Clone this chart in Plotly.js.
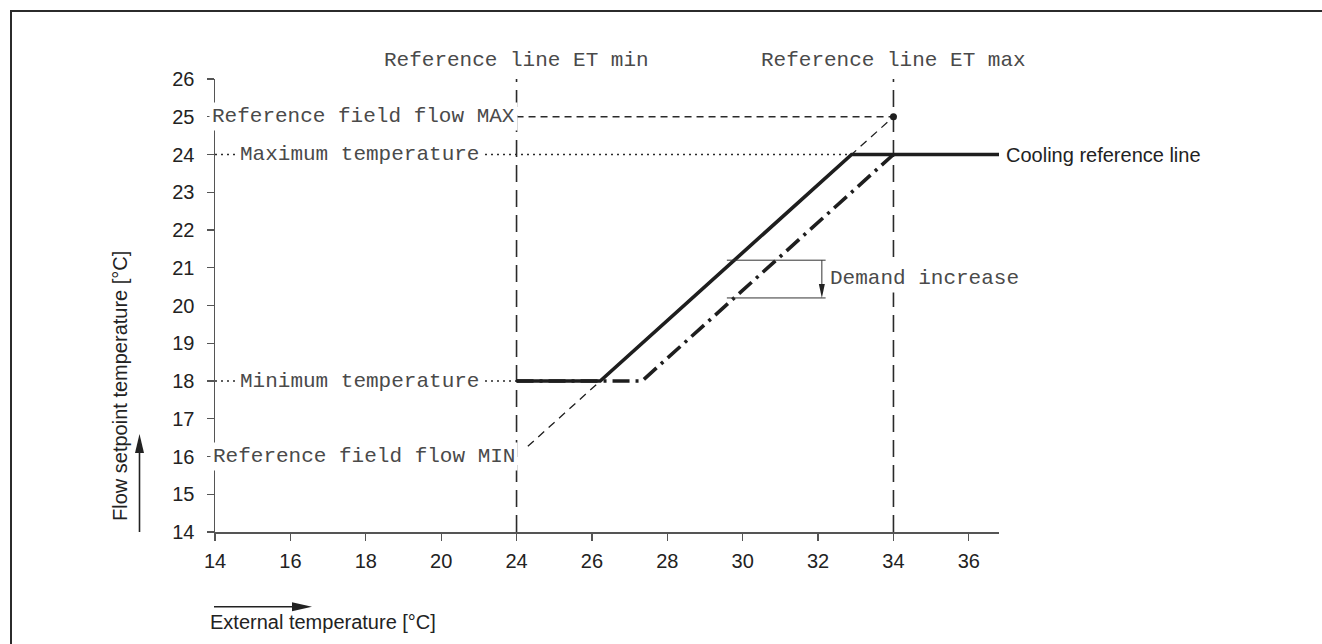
<!DOCTYPE html>
<html><head><meta charset="utf-8">
<script src="https://cdn.plot.ly/plotly-3.0.1.min.js"></script>
<style>
html,body{margin:0;padding:0;background:#fff;overflow:hidden;}
#wrap{position:relative;width:1322px;height:644px;}
#chart{position:absolute;left:0;top:0;width:1322px;height:644px;}
#frame{position:absolute;left:10px;top:10px;width:1400px;height:700px;border-left:2px solid #2b2b2b;border-top:2px solid #2b2b2b;pointer-events:none;}
</style></head><body>
<div id="wrap"><div id="chart"></div><div id="frame"></div></div>
<script>
// ---- data ----
const xTickLabels = [14, 16, 18, 20, 24, 26, 28, 30, 32, 34, 36];
const yTickValues = [14, 15, 16, 17, 18, 19, 20, 21, 22, 23, 24, 25, 26];
const coolingX = [24, 26.22, 32.89, 36.8];
const coolingY = [18, 18, 24, 24];
const shiftedX = [24, 27.33, 34];
const shiftedY = [18, 18, 24];
const refFieldX = [24.3, 34];
const refFieldY = [16.27, 25];
const refMaxPointX = [34];
const refMaxPointY = [25];
const etMin = 24, etMax = 34;
const flowMax = 25, flowMin = 16;
const tempMax = 24, tempMin = 18;
const demandX = [29.58, 32.2];
const demandY = [21.2, 20.2];
const demandArrowX = 32.1;

// broken x axis: 14..20 then 24..36
const axisPos = v => (v <= 20 ? v + 2 : v);
const xRange = [axisPos(14), 36.8];
const yRange = [14, 26];

// layout geometry
const M = {l: 215, r: 323, t: 79, b: 112};
const W = 1322 - M.l - M.r, H = 644 - M.t - M.b;
const pxPerX = W / (xRange[1] - xRange[0]);
const pxPerY = H / (yRange[1] - yRange[0]);
const px2paperX = px => (px - M.l) / W;
const py2paperY = py => (M.t + H - py) / H;
const x2paper = v => (v - xRange[0]) / (xRange[1] - xRange[0]);

const INK = '#1e1e1e';
const MONO = {family: 'Liberation Mono, Courier New, monospace', size: 21, color: '#4a4a4a'};
const SANS = {family: 'Liberation Sans, Arial, sans-serif', size: 20, color: '#222'};

const traces = [
  {x: refFieldX, y: refFieldY, mode: 'lines', line: {color: INK, width: 1.3, dash: '8px,6px'}, hoverinfo: 'skip'},
  {x: shiftedX, y: shiftedY, mode: 'lines', line: {color: INK, width: 3.6, dash: '17px,6px,3px,6px'}, hoverinfo: 'skip'},
  {x: coolingX, y: coolingY, mode: 'lines', line: {color: INK, width: 3.6}, hoverinfo: 'skip'},
  {x: refMaxPointX, y: refMaxPointY, mode: 'markers', marker: {color: INK, size: 7}, hoverinfo: 'skip'}
];

// arrowheads
function headData(tipX, tipY, dirX, dirY, len, wid) {
  const bx = -dirX * len, by = -dirY * len;
  const nx = -dirY * wid / 2, ny = dirX * wid / 2;
  const pts = [[0, 0], [bx + nx, by + ny], [bx - nx, by - ny]];
  return 'M' + pts.map(p => (tipX + p[0] / pxPerX) + ',' + (tipY - p[1] / pxPerY)).join(' L') + ' Z';
}
function headPaper(tipPx, tipPy, dirX, dirY, len, wid) {
  const bx = -dirX * len, by = -dirY * len;
  const nx = -dirY * wid / 2, ny = dirX * wid / 2;
  const pts = [[0, 0], [bx + nx, by + ny], [bx - nx, by - ny]];
  return 'M' + pts.map(p => px2paperX(tipPx + p[0]) + ',' + py2paperY(tipPy + p[1])).join(' L') + ' Z';
}

const yArrowX = 139.5, yArrowTop = 434, yArrowBottom = 532;
const xArrowY = 606.7, xArrowLeft = 214, xArrowRight = 312;

const shapes = [
  {type: 'line', xref: 'x', yref: 'y', x0: etMin, x1: etMin, y0: yRange[0], y1: yRange[1], layer: 'below', line: {color: '#2a2a2a', width: 1.6, dash: '17px,8px'}},
  {type: 'line', xref: 'x', yref: 'y', x0: etMax, x1: etMax, y0: yRange[0], y1: yRange[1], layer: 'below', line: {color: '#2a2a2a', width: 1.6, dash: '17px,8px'}},
  {type: 'line', xref: 'x', yref: 'y', x0: etMin, x1: etMax, y0: flowMax, y1: flowMax, layer: 'below', line: {color: '#2a2a2a', width: 1.3, dash: '7px,5px'}},
  {type: 'line', xref: 'x', yref: 'y', x0: xRange[0], x1: coolingX[2], y0: tempMax, y1: tempMax, layer: 'below', line: {color: '#2a2a2a', width: 1.3, dash: '2px,4px'}},
  {type: 'line', xref: 'x', yref: 'y', x0: xRange[0], x1: etMin, y0: tempMin, y1: tempMin, layer: 'below', line: {color: '#2a2a2a', width: 1.3, dash: '2px,4px'}},
  {type: 'line', xref: 'x', yref: 'y', x0: demandX[0], x1: demandX[1], y0: demandY[0], y1: demandY[0], line: {color: '#333', width: 1}},
  {type: 'line', xref: 'x', yref: 'y', x0: demandX[0], x1: demandX[1], y0: demandY[1], y1: demandY[1], line: {color: '#333', width: 1}},
  {type: 'line', xref: 'x', yref: 'y', x0: demandArrowX, x1: demandArrowX, y0: demandY[0], y1: demandY[1] + 10 / pxPerY, line: {color: '#333', width: 1}},
  {type: 'path', xref: 'x', yref: 'y', path: headData(demandArrowX, demandY[1], 0, 1, 14, 6), fillcolor: '#222', line: {width: 0}},
  {type: 'line', xref: 'paper', yref: 'paper', x0: px2paperX(yArrowX), x1: px2paperX(yArrowX), y0: py2paperY(yArrowBottom), y1: py2paperY(yArrowTop + 12), line: {color: '#222', width: 1.6}},
  {type: 'path', xref: 'paper', yref: 'paper', path: headPaper(yArrowX, yArrowTop, 0, -1, 19, 9), fillcolor: '#222', line: {width: 0}},
  {type: 'line', xref: 'paper', yref: 'paper', x0: px2paperX(xArrowLeft), x1: px2paperX(xArrowRight - 12), y0: py2paperY(xArrowY), y1: py2paperY(xArrowY), line: {color: '#222', width: 1.6}},
  {type: 'path', xref: 'paper', yref: 'paper', path: headPaper(xArrowRight, xArrowY, 1, 0, 20, 9), fillcolor: '#222', line: {width: 0}}
];

const box = {bgcolor: '#ffffff', borderpad: 2, showarrow: false};
const annotations = [
  {text: 'Reference line ET min', x: x2paper(etMin), y: py2paperY(60.5), xref: 'paper', yref: 'paper', xanchor: 'center', yanchor: 'middle', showarrow: false, font: MONO},
  {text: 'Reference line ET max', x: x2paper(etMax), y: py2paperY(60.5), xref: 'paper', yref: 'paper', xanchor: 'center', yanchor: 'middle', showarrow: false, font: MONO},
  Object.assign({text: 'Reference field flow MAX', x: etMin + 0.03, y: flowMax, xref: 'x', yref: 'y', xanchor: 'right', yanchor: 'middle', font: MONO}, box),
  Object.assign({text: 'Maximum temperature', x: xRange[0] + 0.58, y: tempMax, xref: 'x', yref: 'y', xanchor: 'left', yanchor: 'middle', font: MONO}, box),
  Object.assign({text: 'Minimum temperature', x: xRange[0] + 0.58, y: tempMin, xref: 'x', yref: 'y', xanchor: 'left', yanchor: 'middle', font: MONO}, box),
  Object.assign({text: 'Reference field flow MIN', x: etMin + 0.03, y: flowMin, xref: 'x', yref: 'y', xanchor: 'right', yanchor: 'middle', font: MONO}, box),
  Object.assign({text: 'Demand increase', x: demandArrowX + 0.13, y: (demandY[0] + demandY[1]) / 2 + 0.02, xref: 'x', yref: 'y', xanchor: 'left', yanchor: 'middle', font: MONO}, box),
  {text: 'Cooling reference line', x: px2paperX(1004), y: py2paperY(154.5), xref: 'paper', yref: 'paper', xanchor: 'left', yanchor: 'middle', showarrow: false, font: SANS},
  {text: 'External temperature [°C]', x: px2paperX(208), y: py2paperY(621.7), xref: 'paper', yref: 'paper', xanchor: 'left', yanchor: 'middle', showarrow: false, font: SANS},
  {text: 'Flow setpoint temperature [°C]', x: px2paperX(120), y: py2paperY(386), xref: 'paper', yref: 'paper', xanchor: 'center', yanchor: 'middle', textangle: -90, showarrow: false, font: SANS}
];

const axisCommon = {
  showgrid: false, zeroline: false, showline: true, linecolor: '#555', linewidth: 1.5,
  ticks: 'outside', ticklen: 7, tickwidth: 1.3, tickcolor: '#555',
  tickfont: {family: 'Liberation Sans, Arial, sans-serif', size: 20, color: '#222'},
  fixedrange: true
};

const layout = {
  width: 1322, height: 644,
  margin: M,
  paper_bgcolor: '#fff', plot_bgcolor: '#fff',
  showlegend: false,
  xaxis: Object.assign({}, axisCommon, {
    range: xRange, tickmode: 'array',
    tickvals: xTickLabels.map(axisPos), ticktext: xTickLabels.map(String),
    ticklabelstandoff: 3
  }),
  yaxis: Object.assign({}, axisCommon, {
    range: yRange, tickmode: 'array',
    tickvals: yTickValues, ticktext: yTickValues.map(String),
    ticklabelstandoff: 8
  }),
  shapes: shapes,
  annotations: annotations
};

Plotly.newPlot('chart', traces, layout, {displayModeBar: false, staticPlot: true});
</script>
</body></html>
